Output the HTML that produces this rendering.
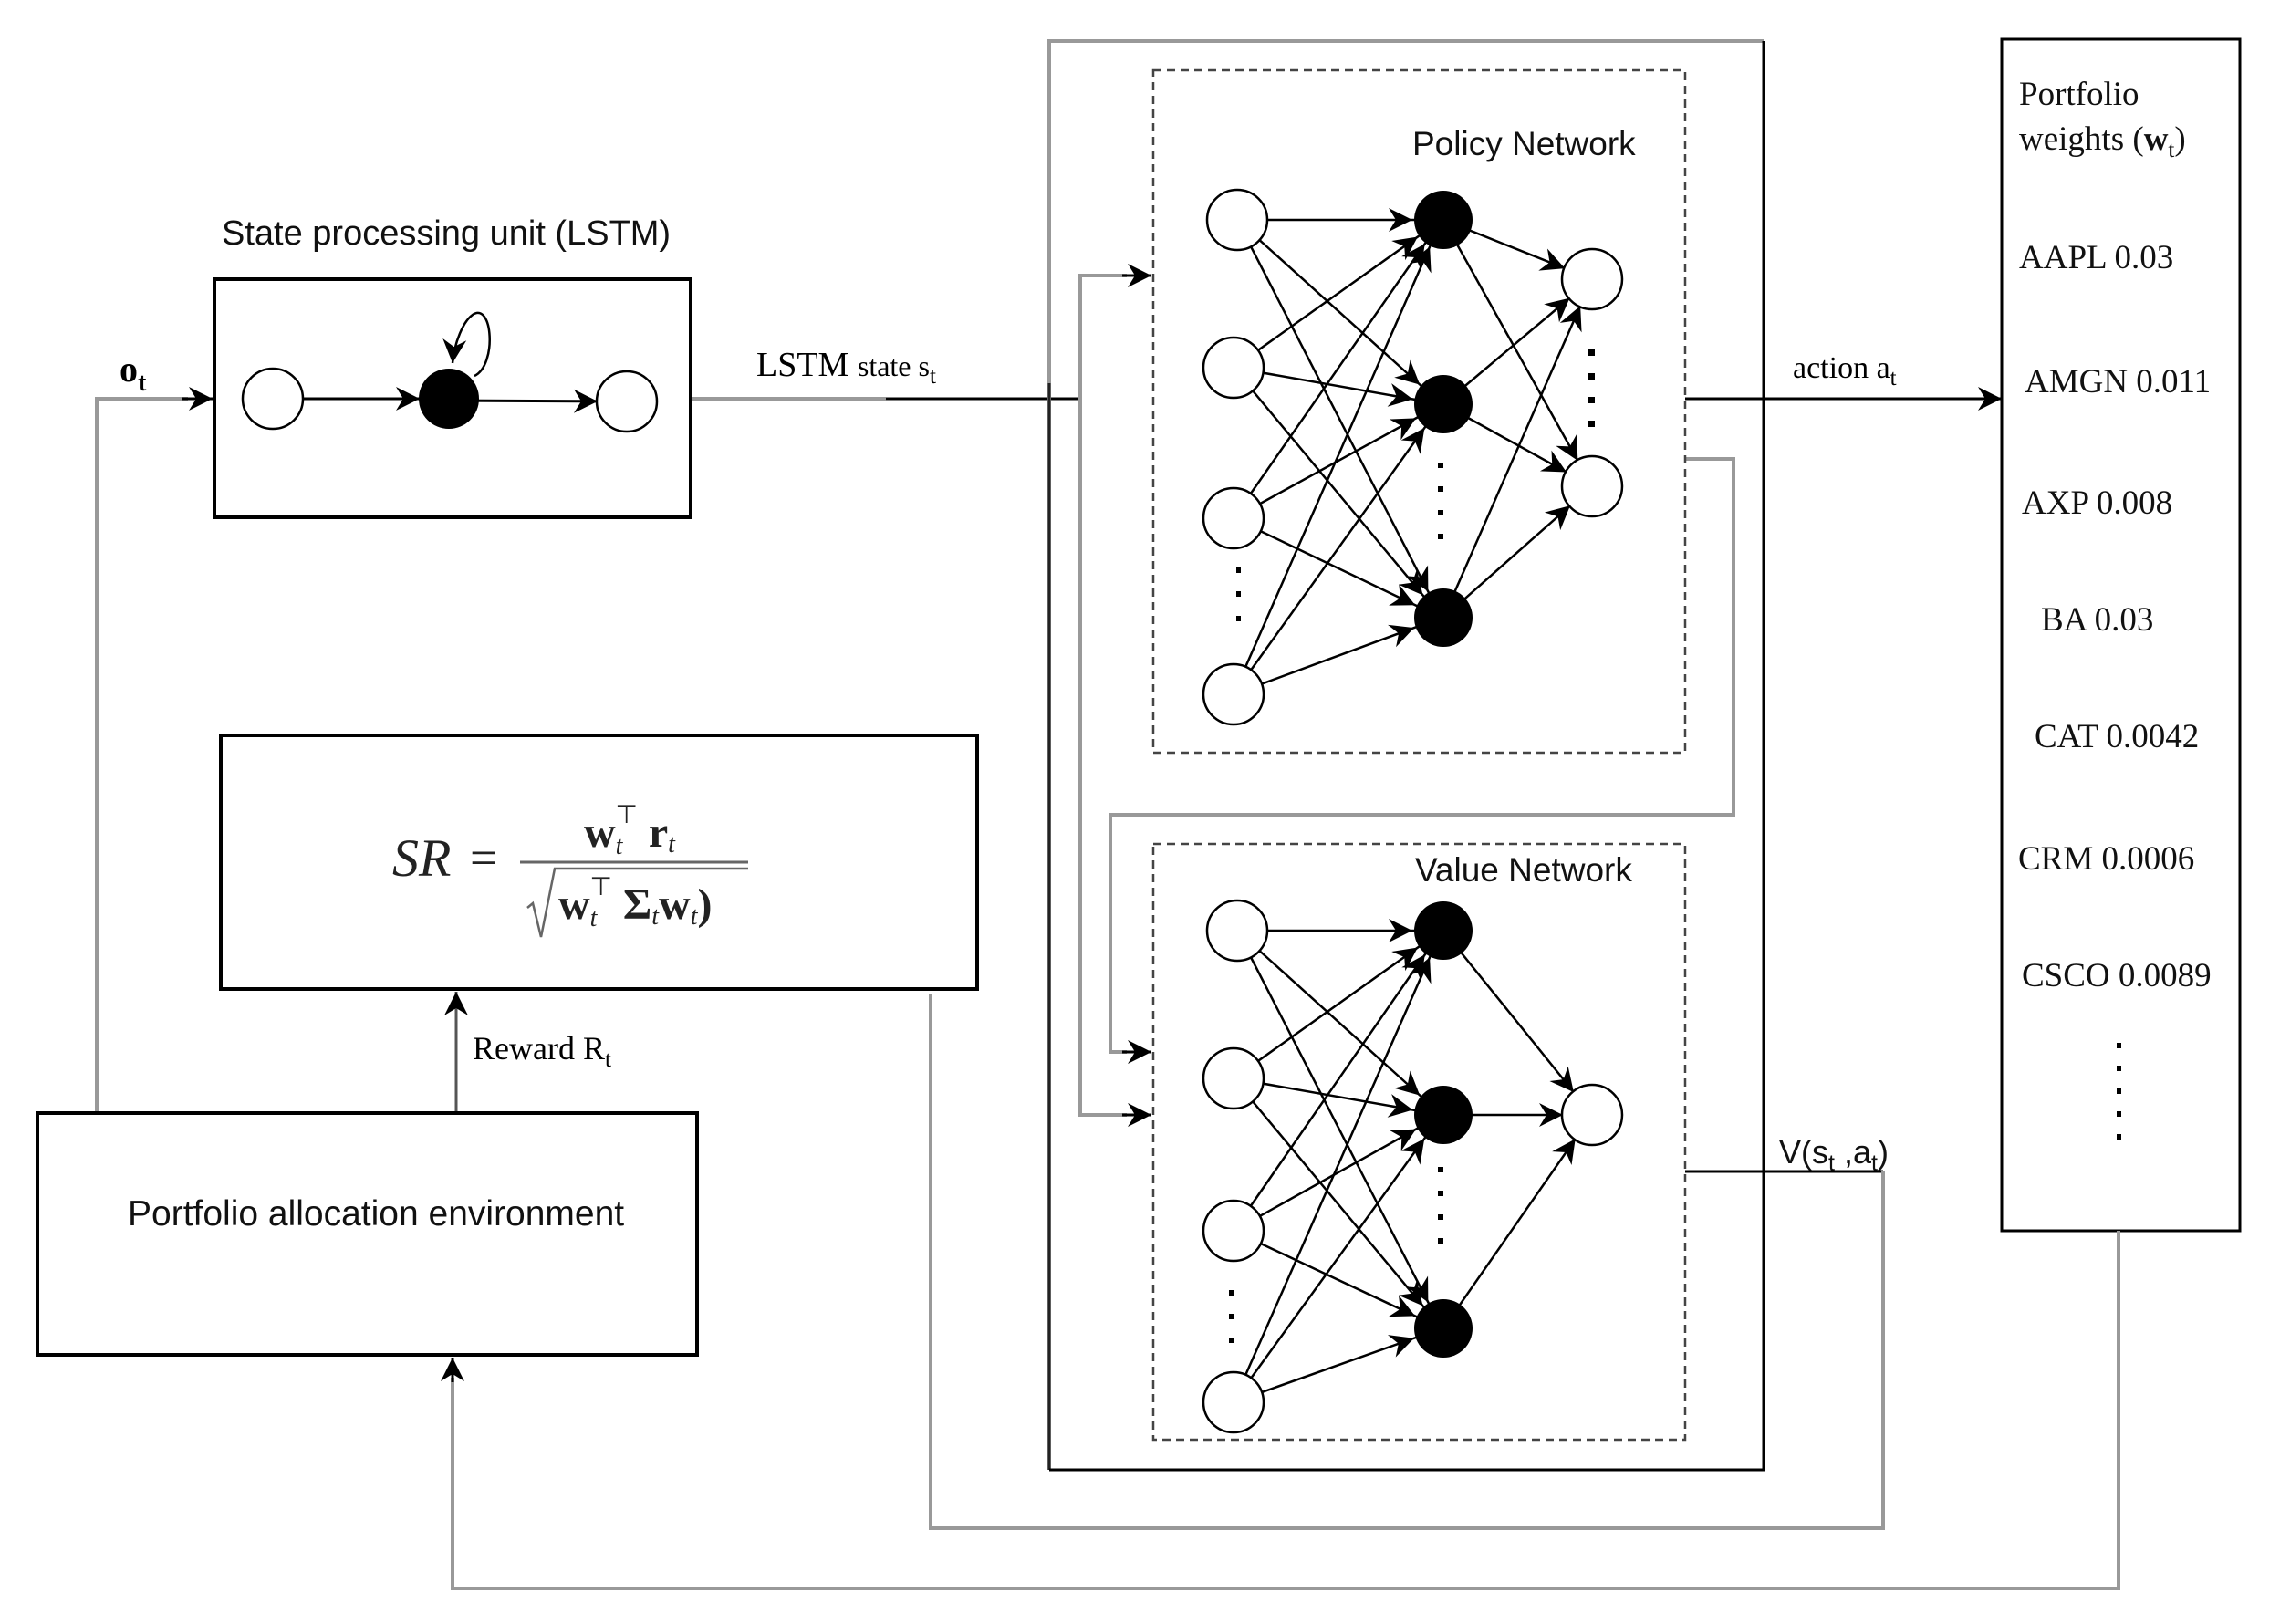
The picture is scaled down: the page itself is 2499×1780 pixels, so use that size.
<!DOCTYPE html>
<html><head><meta charset="utf-8"><style>
html,body{margin:0;padding:0;background:#fff;}
svg{display:block;}
.s{font-family:"Liberation Sans",sans-serif;}
.r{font-family:"Liberation Serif",serif;}
</style></head><body>
<svg width="2499" height="1780" viewBox="0 0 2499 1780" xmlns="http://www.w3.org/2000/svg">
<defs>
<marker id="a" markerUnits="userSpaceOnUse" markerWidth="80" markerHeight="40" viewBox="0 0 80 40" refX="58" refY="20" orient="auto" overflow="visible">
<path d="M0,7 L26,20 L0,33 L8,20 z" fill="#000"/>
</marker>
<marker id="b" markerUnits="userSpaceOnUse" markerWidth="40" markerHeight="40" viewBox="0 0 40 40" refX="26" refY="20" orient="auto" overflow="visible">
<path d="M0,7 L26,20 L0,33 L8,20 z" fill="#000"/>
</marker>
</defs>

<!-- LSTM -->
<text x="243" y="268" class="s" font-size="38" fill="#111">State processing unit (LSTM)</text>
<rect x="235" y="306" width="522" height="261" fill="none" stroke="#000" stroke-width="4"/>
<line x1="332" y1="437" x2="492" y2="437" stroke="#000" stroke-width="3" marker-end="url(#a)"/>
<line x1="492" y1="439" x2="687" y2="440" stroke="#000" stroke-width="3" marker-end="url(#a)"/>
<path d="M520,412 C545,400 540,330 518,345 C508,352 498,375 496,398" fill="none" stroke="#000" stroke-width="2.5" marker-end="url(#b)"/>
<circle cx="299" cy="437" r="33" fill="#fff" stroke="#000" stroke-width="2.5"/>
<circle cx="492" cy="437" r="33" fill="#000"/>
<circle cx="687" cy="440" r="33" fill="#fff" stroke="#000" stroke-width="2.5"/>

<!-- o_t input -->
<text x="131" y="418" class="r" font-size="40" font-weight="bold">o<tspan font-size="28" dy="10">t</tspan></text>
<polyline points="106,1220 106,437 206,437" fill="none" stroke="#999" stroke-width="4"/>
<line x1="200" y1="437" x2="233" y2="437" stroke="#000" stroke-width="3" marker-end="url(#b)"/>

<!-- LSTM state -->
<text x="829" y="412" class="r" font-size="38">LSTM <tspan font-size="32">state s</tspan><tspan font-size="25" dy="8">t</tspan></text>
<line x1="759" y1="437" x2="971" y2="437" stroke="#999" stroke-width="4"/>
<line x1="971" y1="437" x2="1186" y2="437" stroke="#000" stroke-width="3"/>

<!-- outer box -->
<polyline points="1150,1611 1150,45 1933,45" fill="none" stroke="#999" stroke-width="4"/>
<line x1="1150" y1="420" x2="1150" y2="1611" stroke="#222" stroke-width="3"/>
<polyline points="1933,45 1933,1611 1150,1611" fill="none" stroke="#000" stroke-width="3"/>

<!-- distribution lines -->
<polyline points="1235,302 1184,302 1184,1222 1235,1222" fill="none" stroke="#999" stroke-width="4"/>
<line x1="1230" y1="302" x2="1262" y2="302" stroke="#000" stroke-width="3" marker-end="url(#b)"/>
<line x1="1230" y1="1222" x2="1262" y2="1222" stroke="#000" stroke-width="3" marker-end="url(#b)"/>
<polyline points="1847,503 1900,503 1900,893 1217,893 1217,1153 1235,1153" fill="none" stroke="#999" stroke-width="4"/>
<line x1="1230" y1="1153" x2="1262" y2="1153" stroke="#000" stroke-width="3" marker-end="url(#b)"/>

<!-- dashed boxes -->
<rect x="1264" y="77" width="583" height="748" fill="none" stroke="#444" stroke-width="2.5" stroke-dasharray="9,6"/>
<rect x="1264" y="925" width="583" height="653" fill="none" stroke="#444" stroke-width="2.5" stroke-dasharray="9,6"/>
<text x="1548" y="170" class="s" font-size="37" fill="#111">Policy Network</text>
<text x="1551" y="966" class="s" font-size="37" fill="#111">Value Network</text>

<!-- policy edges -->
<g stroke="#000" stroke-width="2.5" marker-end="url(#a)">
<line x1="1356" y1="241" x2="1580" y2="241"/>
<line x1="1356" y1="241" x2="1580" y2="443"/>
<line x1="1356" y1="241" x2="1580" y2="677"/>
<line x1="1352" y1="403" x2="1580" y2="241"/>
<line x1="1352" y1="403" x2="1580" y2="443"/>
<line x1="1352" y1="403" x2="1580" y2="677"/>
<line x1="1352" y1="568" x2="1580" y2="241"/>
<line x1="1352" y1="568" x2="1580" y2="443"/>
<line x1="1352" y1="568" x2="1580" y2="677"/>
<line x1="1352" y1="761" x2="1580" y2="241"/>
<line x1="1352" y1="761" x2="1580" y2="443"/>
<line x1="1352" y1="761" x2="1580" y2="677"/>
<line x1="1582" y1="241" x2="1745" y2="306"/>
<line x1="1582" y1="241" x2="1745" y2="533"/>
<line x1="1582" y1="443" x2="1745" y2="306"/>
<line x1="1582" y1="443" x2="1745" y2="533"/>
<line x1="1582" y1="677" x2="1745" y2="306"/>
<line x1="1582" y1="677" x2="1745" y2="533"/>
</g>
<g fill="#fff" stroke="#000" stroke-width="2.5">
<circle cx="1356" cy="241" r="33"/><circle cx="1352" cy="403" r="33"/><circle cx="1352" cy="568" r="33"/><circle cx="1352" cy="761" r="33"/>
<circle cx="1745" cy="306" r="33"/><circle cx="1745" cy="533" r="33"/>
</g>
<g fill="#000">
<circle cx="1582" cy="241" r="32"/><circle cx="1582" cy="443" r="32"/><circle cx="1582" cy="677" r="32"/>
<rect x="1576" y="507" width="6" height="6"/><rect x="1576" y="533" width="6" height="6"/><rect x="1576" y="559" width="6" height="6"/><rect x="1576" y="585" width="6" height="6"/>
<rect x="1741" y="383" width="7" height="7"/><rect x="1741" y="409" width="7" height="7"/><rect x="1741" y="435" width="7" height="7"/><rect x="1741" y="461" width="7" height="7"/>
<rect x="1355" y="622" width="5" height="6"/><rect x="1355" y="648" width="5" height="6"/><rect x="1355" y="675" width="5" height="6"/>
</g>

<!-- value edges -->
<g stroke="#000" stroke-width="2.5" marker-end="url(#a)">
<line x1="1356" y1="1020" x2="1580" y2="1020"/>
<line x1="1356" y1="1020" x2="1580" y2="1222"/>
<line x1="1356" y1="1020" x2="1580" y2="1456"/>
<line x1="1352" y1="1182" x2="1580" y2="1020"/>
<line x1="1352" y1="1182" x2="1580" y2="1222"/>
<line x1="1352" y1="1182" x2="1580" y2="1456"/>
<line x1="1352" y1="1349" x2="1580" y2="1020"/>
<line x1="1352" y1="1349" x2="1580" y2="1222"/>
<line x1="1352" y1="1349" x2="1580" y2="1456"/>
<line x1="1352" y1="1537" x2="1580" y2="1020"/>
<line x1="1352" y1="1537" x2="1580" y2="1222"/>
<line x1="1352" y1="1537" x2="1580" y2="1456"/>
<line x1="1582" y1="1020" x2="1745" y2="1222"/>
<line x1="1582" y1="1222" x2="1745" y2="1222"/>
<line x1="1582" y1="1456" x2="1745" y2="1222"/>
</g>
<g fill="#fff" stroke="#000" stroke-width="2.5">
<circle cx="1356" cy="1020" r="33"/><circle cx="1352" cy="1182" r="33"/><circle cx="1352" cy="1349" r="33"/><circle cx="1352" cy="1537" r="33"/>
<circle cx="1745" cy="1222" r="33"/>
</g>
<g fill="#000">
<circle cx="1582" cy="1020" r="32"/><circle cx="1582" cy="1222" r="32"/><circle cx="1582" cy="1456" r="32"/>
<rect x="1576" y="1279" width="6" height="6"/><rect x="1576" y="1305" width="6" height="6"/><rect x="1576" y="1331" width="6" height="6"/><rect x="1576" y="1357" width="6" height="6"/>
<rect x="1347" y="1414" width="5" height="6"/><rect x="1347" y="1440" width="5" height="6"/><rect x="1347" y="1466" width="5" height="6"/>
</g>

<!-- action -->
<line x1="1847" y1="437" x2="2194" y2="437" stroke="#000" stroke-width="3" marker-end="url(#b)"/>
<text x="1965" y="414" class="r" font-size="34">action a<tspan font-size="25" dy="8">t</tspan></text>

<!-- V(s,a) -->
<text x="1950" y="1275" class="s" font-size="36" fill="#111">V(s<tspan font-size="25" dy="8">t</tspan><tspan dy="-8"> ,a</tspan><tspan font-size="25" dy="8">t</tspan><tspan dy="-8">)</tspan></text>
<polyline points="1847,1284 2064,1284" fill="none" stroke="#000" stroke-width="3"/>
<polyline points="2064,1284 2064,1675 1020,1675 1020,1090" fill="none" stroke="#999" stroke-width="4"/>

<!-- portfolio box -->
<rect x="2194" y="43" width="261" height="1306" fill="none" stroke="#000" stroke-width="3"/>
<g class="r" font-size="37" fill="#111" style="white-space:pre">
<text x="2213" y="115">Portfolio</text>
<text x="2213" y="164">weights (<tspan font-weight="bold">w</tspan><tspan font-size="25" dy="8">t</tspan><tspan dy="-8">)</tspan></text>
<text x="2213" y="294">AAPL  0.03</text>
<text x="2219" y="430">AMGN  0.011</text>
<text x="2216" y="563">AXP  0.008</text>
<text x="2237" y="691">BA  0.03</text>
<text x="2230" y="819">CAT  0.0042</text>
<text x="2212" y="953">CRM  0.0006</text>
<text x="2216" y="1081">CSCO 0.0089</text>
</g>
<g fill="#000">
<rect x="2320" y="1143" width="5" height="6"/><rect x="2320" y="1168" width="5" height="6"/><rect x="2320" y="1193" width="5" height="6"/><rect x="2320" y="1218" width="5" height="6"/><rect x="2320" y="1243" width="5" height="6"/>
</g>
<polyline points="2322,1349 2322,1741 496,1741 496,1510" fill="none" stroke="#999" stroke-width="4"/>
<line x1="496" y1="1515" x2="496" y2="1488" stroke="#000" stroke-width="3" marker-end="url(#b)"/>

<!-- SR box -->
<rect x="242" y="806" width="829" height="278" fill="none" stroke="#000" stroke-width="4"/>
<g class="r" fill="#222">
<text x="430" y="960" font-size="58" font-style="italic">SR</text>
<text x="515" y="958" font-size="54">=</text>
<text x="640" y="928" font-size="48" font-weight="bold">w<tspan font-size="28" font-style="italic" font-weight="normal" dy="8">t</tspan><tspan font-size="28" font-weight="normal" dx="-8" dy="-34">⊤</tspan><tspan dy="26" font-weight="bold" font-size="48"> r</tspan><tspan font-size="28" font-style="italic" font-weight="normal" dy="6">t</tspan></text>
<text x="612" y="1007" font-size="48" font-weight="bold">w<tspan font-size="28" font-style="italic" font-weight="normal" dy="8">t</tspan><tspan font-size="28" font-weight="normal" dx="-8" dy="-34">⊤</tspan><tspan dy="26" font-weight="bold" font-size="48"> Σ</tspan><tspan font-size="28" font-style="italic" font-weight="normal" dy="6">t</tspan><tspan dy="-6" font-weight="bold" font-size="48">w</tspan><tspan font-size="28" font-style="italic" font-weight="normal" dy="6">t</tspan><tspan dy="-6" font-size="48">)</tspan></text>
</g>
<line x1="570" y1="945" x2="820" y2="945" stroke="#666" stroke-width="3"/>
<polyline points="578,995 584,990 593,1027 608,952 820,952" fill="none" stroke="#666" stroke-width="2.5"/>

<!-- reward -->
<line x1="500" y1="1220" x2="500" y2="1087" stroke="#555" stroke-width="3" marker-end="url(#b)"/>
<text x="518" y="1161" class="r" font-size="36">Reward R<tspan font-size="25" dy="8">t</tspan></text>

<!-- env box -->
<rect x="41" y="1220" width="723" height="265" fill="none" stroke="#000" stroke-width="4"/>
<text x="140" y="1343" class="s" font-size="39" fill="#111">Portfolio allocation environment</text>
</svg>
</body></html>
